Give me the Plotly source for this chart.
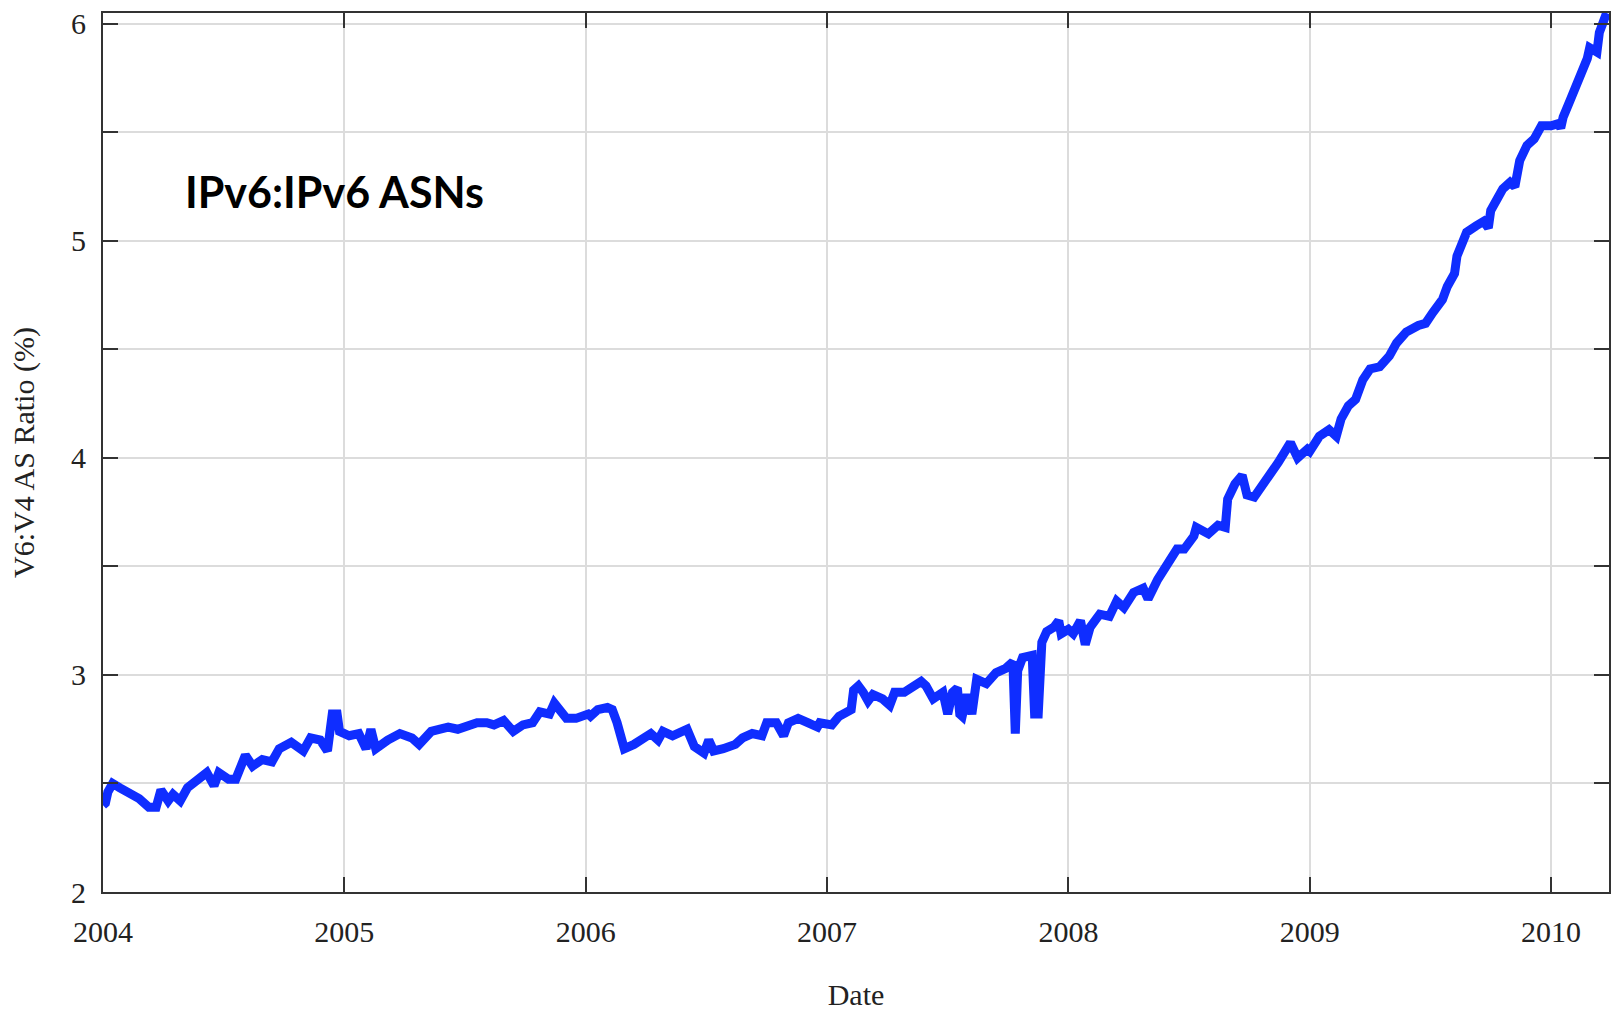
import plotly.graph_objects as go

# decimal year, V6:V4 AS ratio (%)
year = [
    2004.00, 2004.01, 2004.02, 2004.04, 2004.07, 2004.11, 2004.15, 2004.19, 2004.22, 2004.24,
    2004.27, 2004.29, 2004.32, 2004.35, 2004.39, 2004.43, 2004.46, 2004.48, 2004.52, 2004.55,
    2004.59, 2004.62, 2004.66, 2004.70, 2004.73, 2004.78, 2004.83, 2004.86, 2004.90, 2004.93,
    2004.95, 2004.97, 2004.98, 2005.02, 2005.06, 2005.09, 2005.11, 2005.13, 2005.18, 2005.23,
    2005.28, 2005.31, 2005.36, 2005.43, 2005.47, 2005.51, 2005.55, 2005.59, 2005.62, 2005.66,
    2005.70, 2005.74, 2005.78,
    2005.81, 2005.85, 2005.87, 2005.90, 2005.92, 2005.96, 2006.01, 2006.02, 2006.05, 2006.09,
    2006.11, 2006.13, 2006.15, 2006.16, 2006.20, 2006.23, 2006.27, 2006.30, 2006.32, 2006.36,
    2006.39, 2006.42, 2006.45, 2006.49, 2006.51, 2006.53, 2006.57, 2006.62, 2006.65, 2006.69,
    2006.73, 2006.75, 2006.79, 2006.82, 2006.84, 2006.88, 2006.92, 2006.96, 2006.97, 2007.02,
    2007.05, 2007.10, 2007.11, 2007.13, 2007.15, 2007.17, 2007.19, 2007.23, 2007.26, 2007.28,
    2007.32, 2007.36, 2007.39, 2007.41, 2007.44, 2007.48, 2007.50, 2007.52, 2007.54, 2007.55,
    2007.56, 2007.58, 2007.60, 2007.62, 2007.66, 2007.70, 2007.74, 2007.77, 2007.78, 2007.79,
    2007.81, 2007.85, 2007.86, 2007.875, 2007.89, 2007.91, 2007.94, 2007.96, 2007.97, 2008.00,
    2008.02, 2008.05, 2008.07, 2008.09, 2008.13, 2008.17, 2008.20, 2008.23, 2008.27, 2008.31,
    2008.33, 2008.37, 2008.39, 2008.42, 2008.45, 2008.48, 2008.52, 2008.53, 2008.58, 2008.62,
    2008.65, 2008.66, 2008.69, 2008.72, 2008.74, 2008.77, 2008.81, 2008.84, 2008.87, 2008.92,
    2008.95, 2008.99, 2009.00, 2009.04, 2009.08, 2009.11, 2009.13, 2009.16, 2009.19, 2009.22,
    2009.25, 2009.29, 2009.33, 2009.36, 2009.40, 2009.45, 2009.48, 2009.51, 2009.55, 2009.57,
    2009.60, 2009.61, 2009.63, 2009.65, 2009.69, 2009.72, 2009.74, 2009.75, 2009.78, 2009.80,
    2009.83, 2009.85, 2009.87, 2009.90, 2009.93, 2009.96, 2010.00, 2010.03, 2010.04, 2010.05,
    2010.08, 2010.10, 2010.12, 2010.15, 2010.16, 2010.18, 2010.19, 2010.20, 2010.23,
]
ratio = [
    2.40, 2.41, 2.46, 2.50, 2.48, 2.46, 2.43, 2.39, 2.39, 2.47,
    2.42, 2.45, 2.42, 2.48, 2.52, 2.55, 2.49, 2.55, 2.52, 2.52,
    2.63, 2.58, 2.61, 2.60, 2.66, 2.69, 2.65, 2.71, 2.70, 2.65,
    2.82, 2.82, 2.74, 2.72, 2.73, 2.66, 2.75, 2.66, 2.70, 2.73,
    2.71, 2.68, 2.74, 2.76, 2.75, 2.77, 2.78, 2.78, 2.77, 2.79,
    2.74, 2.77, 2.78,
    2.83, 2.82, 2.87, 2.83, 2.80, 2.80, 2.82, 2.81, 2.84, 2.85,
    2.84, 2.78, 2.70, 2.66, 2.68, 2.70, 2.73, 2.70, 2.74, 2.72,
    2.73, 2.75, 2.67, 2.64, 2.70, 2.65, 2.66, 2.68, 2.71, 2.73,
    2.72, 2.78, 2.78, 2.72, 2.78, 2.80, 2.78, 2.76, 2.78, 2.77,
    2.81, 2.84, 2.93, 2.95, 2.92, 2.88, 2.91, 2.89, 2.86, 2.92,
    2.92, 2.95, 2.97, 2.95, 2.89, 2.92, 2.82, 2.92, 2.94, 2.82,
    2.81, 2.91, 2.82, 2.98, 2.96, 3.01, 3.03, 3.06, 2.73, 3.02,
    3.08, 3.09, 2.82, 2.82, 3.15, 3.20, 3.22, 3.25, 3.19, 3.21,
    3.19, 3.25, 3.14, 3.22, 3.28, 3.27, 3.34, 3.31, 3.38, 3.40,
    3.35, 3.44, 3.48, 3.52, 3.58, 3.58, 3.64, 3.68, 3.65, 3.69,
    3.68, 3.81, 3.88, 3.92, 3.83, 3.82, 3.88, 3.92, 3.98, 4.07,
    4.00, 4.04, 4.03, 4.10, 4.13, 4.10, 4.18, 4.24, 4.27, 4.36,
    4.41, 4.42, 4.47, 4.53, 4.58, 4.61, 4.62, 4.67, 4.73, 4.79,
    4.85, 4.93, 4.99, 5.04, 5.07, 5.09, 5.06, 5.14, 5.20, 5.24,
    5.27, 5.25, 5.37, 5.44, 5.47, 5.53, 5.53, 5.54, 5.52, 5.57,
    5.65, 5.70, 5.74, 5.84, 5.89, 5.88, 5.87, 5.96, 6.05,
]

x_ticks = [2004, 2005, 2006, 2007, 2008, 2009, 2010]
x_labels = ["2004", "2005", "2006", "2007", "2008", "2009", "2010"]
y_ticks = [2, 2.5, 3, 3.5, 4, 4.5, 5, 5.5, 6]
y_labels = ["2", "", "3", "", "4", "", "5", "", "6"]

serif = "Liberation Serif"
axis_color = "#333333"
text_color = "#222222"

fig = go.Figure()
fig.add_trace(go.Scatter(
    x=year, y=ratio, mode="lines",
    line=dict(color="#0f2dff", width=9),
    showlegend=False,
))

fig.add_annotation(
    text="<b>IPv6:IPv6 ASNs</b>", xref="paper", yref="paper",
    x=0.053, y=0.797, xanchor="left", yanchor="middle", showarrow=False,
    font=dict(family="Lato", size=43, color="black"),
)

fig.update_xaxes(
    range=[2004, 2010.24], tickvals=x_ticks, ticktext=x_labels,
    ticks="inside", ticklen=15, tickwidth=2, tickcolor=axis_color,
    showline=True, linewidth=2, linecolor=axis_color, mirror="allticks",
    showgrid=True, gridcolor="#dcdcdc", gridwidth=1.5, zeroline=False,
    tickfont=dict(family=serif, size=30, color=text_color),
    ticklabelstandoff=12, automargin=False,
    title=dict(text="Date", font=dict(family=serif, size=30, color=text_color), standoff=44),
)
fig.update_yaxes(
    range=[2, 6.05], tickvals=y_ticks, ticktext=y_labels,
    ticks="inside", ticklen=15, tickwidth=2, tickcolor=axis_color,
    showline=True, linewidth=2, linecolor=axis_color, mirror="allticks",
    showgrid=True, gridcolor="#dcdcdc", gridwidth=1.5, zeroline=False,
    tickfont=dict(family=serif, size=30, color=text_color),
    ticklabelstandoff=9, automargin=False,
    title=dict(text="V6:V4 AS Ratio (%)", font=dict(family=serif, size=30, color=text_color), standoff=28),
)

fig.update_layout(
    width=1618, height=1011,
    margin=dict(l=103, r=9, t=13, b=119),
    paper_bgcolor="white", plot_bgcolor="white",
)

# drop the browser's default 8px body margin so the figure fills the window
fig.write_html(
    "out.html",
    config={"displayModeBar": False},
    post_script="document.body.style.margin = '0';",
)
